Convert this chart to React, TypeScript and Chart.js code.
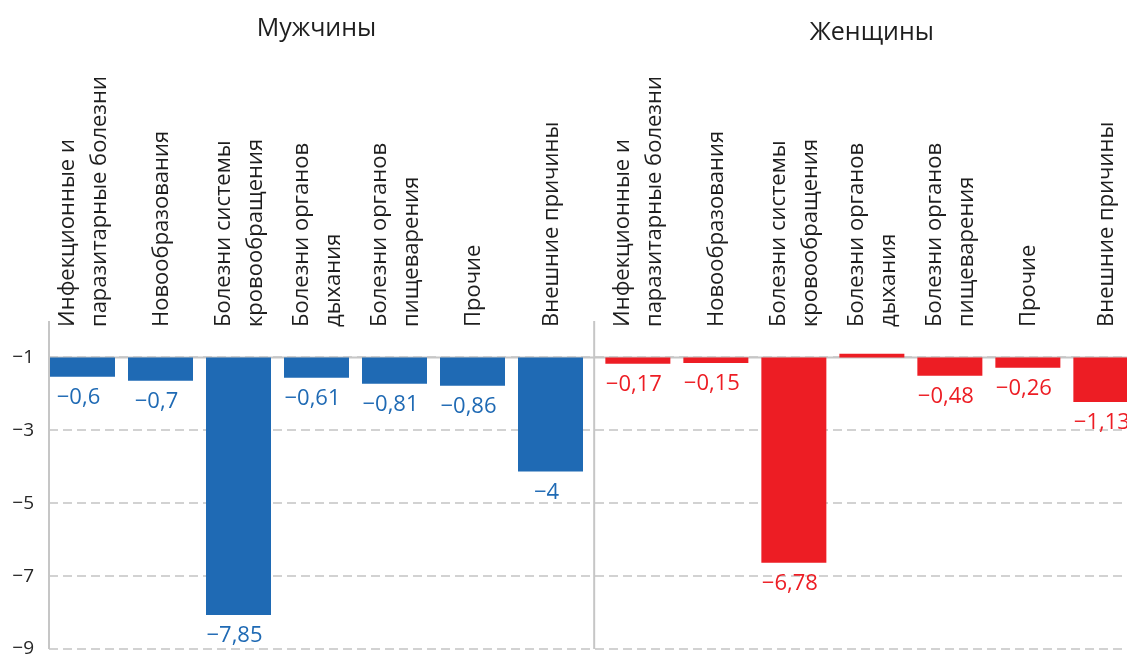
import React, { useEffect, useRef } from 'react';
import { Chart, registerables } from 'chart.js';

Chart.register(...registerables);

// ---------- data ----------
const groupTitles = ['Мужчины', 'Женщины'];
const categories: string[][] = [
  ['Инфекционные и', 'паразитарные болезни'],
  ['Новообразования'],
  ['Болезни системы', 'кровообращения'],
  ['Болезни органов', 'дыхания'],
  ['Болезни органов', 'пищеварения'],
  ['Прочие'],
  ['Внешние причины'],
];
const baseline = -1;
const menBarEnds = [-1.53, -1.64, -8.07, -1.56, -1.72, -1.78, -4.13];
const womenBarEnds = [-1.17, -1.15, -6.63, -0.9, -1.5, -1.28, -2.22];
const menLabels = ['−0,6', '−0,7', '−7,85', '−0,61', '−0,81', '−0,86', '−4'];
const womenLabels = ['−0,17', '−0,15', '−6,78', '', '−0,48', '−0,26', '−1,13'];
const yTicks = [-1, -3, -5, -7, -9];
const yMin = -9;
const yMax = 0;

// ---------- style / layout ----------
const W = 1127;
const H = 669;
const VIEW_H = 655;
const BLUE = '#1f6ab4';
const RED = '#ed1d24';
const TEXT = '#1e1e1e';
const AXIS_COLOR = '#c6c6c6';
const GRID_COLOR = '#d2d2d2';
const FONT = '"Open Sans", "Noto Sans", sans-serif';
const WOMEN_OFFSET = 7.12;
const X_MIN = -0.4295;
const X_MAX = X_MIN + (W - 49) / 78;

export default function App() {
  const ref = useRef<HTMLCanvasElement | null>(null);

  useEffect(() => {
    const canvas = ref.current;
    if (!canvas) return;
    const menPos = categories.map((_, i) => i);
    const womenPos = categories.map((_, i) => i + WOMEN_OFFSET);
    const groups = [
      { pos: menPos, labels: menLabels, color: BLUE },
      { pos: womenPos, labels: womenLabels, color: RED },
    ];

    const textPlugin = {
      id: 'customText',
      beforeDatasetsDraw(chart: any) {
        const { ctx, chartArea, scales } = chart;
        const xs = scales.x;
        const ys = scales.y;
        ctx.save();
        ctx.strokeStyle = AXIS_COLOR;
        ctx.lineWidth = 2;
        const yb = ys.getPixelForValue(baseline);
        ctx.beginPath();
        ctx.moveTo(chartArea.left, yb);
        ctx.lineTo(chartArea.right, yb);
        ctx.stroke();
        ctx.beginPath();
        ctx.moveTo(chartArea.left, chartArea.top);
        ctx.lineTo(chartArea.left, chartArea.bottom);
        ctx.stroke();
        const xd = xs.getPixelForValue((menPos[menPos.length - 1] + womenPos[0]) / 2);
        ctx.beginPath();
        ctx.moveTo(xd, chartArea.top);
        ctx.lineTo(xd, chartArea.bottom);
        ctx.stroke();
        ctx.restore();
      },
      afterDatasetsDraw(chart: any) {
        const { ctx, scales } = chart;
        const xs = scales.x;
        ctx.save();
        // value labels
        ctx.font = `22px ${FONT}`;
        ctx.textAlign = 'center';
        ctx.textBaseline = 'middle';
        groups.forEach((g, di) => {
          const meta = chart.getDatasetMeta(di);
          meta.data.forEach((el: any, i: number) => {
            const txt = g.labels[i];
            if (!txt) return;
            const bottom = Math.max(el.y, el.base);
            ctx.fillStyle = g.color;
            ctx.fillText(txt, el.x - 4, bottom + 21);
          });
        });
        // category labels (rotated)
        ctx.fillStyle = TEXT;
        ctx.font = `22px ${FONT}`;
        ctx.textAlign = 'left';
        ctx.textBaseline = 'middle';
        groups.forEach((g) => {
          g.pos.forEach((p, i) => {
            const lines = categories[i];
            const px = xs.getPixelForValue(p);
            ctx.save();
            ctx.translate(px + 1, 327);
            ctx.rotate(-Math.PI / 2);
            lines.forEach((line, j) => {
              ctx.fillText(line, 0, (j - (lines.length - 1) / 2) * 32);
            });
            ctx.restore();
          });
        });
        // group titles
        ctx.font = `25px ${FONT}`;
        ctx.textAlign = 'center';
        ctx.textBaseline = 'alphabetic';
        const titleBase = [36, 40];
        groups.forEach((g, gi) => {
          const cx = (xs.getPixelForValue(g.pos[0]) + xs.getPixelForValue(g.pos[g.pos.length - 1])) / 2;
          ctx.fillText(groupTitles[gi], cx, titleBase[gi]);
        });
        ctx.restore();
      },
    };

    const chart = new Chart(canvas, {
      type: 'bar',
      data: {
        datasets: [
          {
            label: groupTitles[0],
            data: menBarEnds.map((v, i) => ({ x: menPos[i], y: [baseline, v] })) as any,
            backgroundColor: BLUE,
            borderWidth: 0,
            grouped: false,
            categoryPercentage: 1,
            barPercentage: 65 / 78,
          },
          {
            label: groupTitles[1],
            data: womenBarEnds.map((v, i) => ({ x: womenPos[i], y: [baseline, v] })) as any,
            backgroundColor: RED,
            borderWidth: 0,
            grouped: false,
            categoryPercentage: 1,
            barPercentage: 65 / 78,
          },
        ],
      },
      options: {
        responsive: false,
        maintainAspectRatio: false,
        animation: false,
        layout: { padding: { top: 321, bottom: 20, left: 0, right: 0 } },
        plugins: {
          legend: { display: false },
          tooltip: { enabled: false },
          title: { display: false },
        },
        scales: {
          x: {
            type: 'linear',
            display: false,
            offset: false,
            min: X_MIN,
            max: X_MAX,
          },
          y: {
            type: 'linear',
            min: yMin,
            max: yMax,
            afterBuildTicks: (axis: any) => {
              axis.ticks = yTicks.map((v) => ({ value: v }));
            },
            afterFit: (axis: any) => {
              axis.width = 49;
              axis.paddingTop = 0;
              axis.paddingBottom = 0;
            },
            ticks: {
              padding: 15,
              color: '#262626',
              font: { family: FONT, size: 19 },
              callback: (v: any) => (Number(v) < 0 ? '\u2212' + Math.abs(Number(v)) : String(v)),
            },
            grid: {
              color: GRID_COLOR,
              lineWidth: 2,
              drawTicks: false,
            },
            border: { display: false, dash: [9, 5] },
          },
        },
      },
      plugins: [textPlugin],
    } as any);

    return () => chart.destroy();
  }, []);

  return (
    <div
      style={{
        position: 'fixed',
        left: 0,
        top: 0,
        width: W,
        height: VIEW_H,
        overflow: 'hidden',
        background: '#fff',
      }}
    >
      <canvas ref={ref} width={W} height={H} style={{ display: 'block' }} />
    </div>
  );
}
